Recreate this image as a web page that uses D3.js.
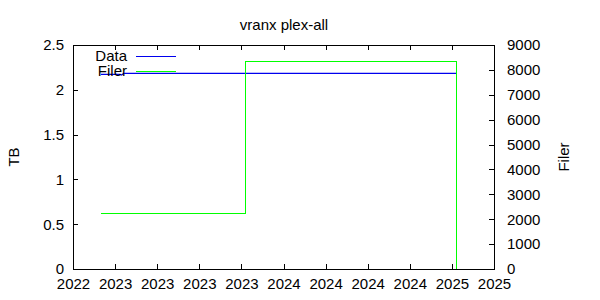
<!DOCTYPE html>
<html>
<head>
<meta charset="utf-8">
<script src="https://cdn.jsdelivr.net/npm/d3@7/dist/d3.min.js"></script>
<style>
  body { margin: 0; background: #fff; }
  svg { display: block; font-family: "Liberation Sans", Arial, sans-serif; }
</style>
</head>
<body>
<div id="chart"></div>
<script>
////// DATA

// Zeitachse: Tick-Positionen (Label nur das Jahr)
var xTicks = ["2022-11-15", "2023-02-15", "2023-05-18", "2023-08-18", "2023-11-18",
              "2024-02-18", "2024-05-20", "2024-08-20", "2024-11-20", "2025-02-20", "2025-05-23"];
var tbTicks = [0, 0.5, 1, 1.5, 2, 2.5];
var filerTicks = [0, 1000, 2000, 3000, 4000, 5000, 6000, 7000, 8000, 9000];

// Data (TB, linke Achse)
var dataDates = ["2023-01-15", "2023-02-25", "2023-03-01", "2023-03-06", "2025-03-01"];
var dataTB = [2.173, 2.173, 2.165, 2.184, 2.184];

// Filer (rechte Achse), Stufen
var filerDates = ["2023-01-15", "2023-11-27", "2025-03-01"];
var filerValues = [2240, 8320, 0];

////// CHART

var width = 600, height = 300;
var plotLeft = 73, plotRight = 494, plotTop = 45, plotBottom = 269;
var parse = d3.utcParse("%Y-%m-%d");

var svg = d3.select("#chart")
  .append("svg")
  .attr("width", width)
  .attr("height", height);

var x = d3.scaleUtc()
  .domain([parse(xTicks[0]), parse(xTicks[xTicks.length - 1])])
  .range([plotLeft, plotRight]);
var y = d3.scaleLinear().domain([0, 2.5]).range([plotBottom, plotTop]);
var y2 = d3.scaleLinear().domain([0, 9000]).range([plotBottom, plotTop]);

// Achsen (Ticks nach innen, gnuplot-Stil)
var tickDates = xTicks.map(parse);

svg.append("g")
  .attr("transform", "translate(0," + plotBottom + ")")
  .call(d3.axisBottom(x).tickValues(tickDates).tickFormat(d3.utcFormat("%Y")).tickSizeInner(-5).tickSizeOuter(0).tickPadding(9))
  .call(function(g) { g.select(".domain").remove(); });

svg.append("g")
  .attr("transform", "translate(0," + plotTop + ")")
  .call(d3.axisTop(x).tickValues(tickDates).tickFormat("").tickSizeInner(-5).tickSizeOuter(0))
  .call(function(g) { g.select(".domain").remove(); });

svg.append("g")
  .attr("transform", "translate(" + plotLeft + ",0)")
  .call(d3.axisLeft(y).tickValues(tbTicks).tickFormat(d3.format("")).tickSizeInner(-5).tickSizeOuter(0).tickPadding(9))
  .call(function(g) { g.select(".domain").remove(); });

svg.append("g")
  .attr("transform", "translate(" + plotRight + ",0)")
  .call(d3.axisRight(y2).tickValues(filerTicks).tickFormat(d3.format("d")).tickSizeInner(-5).tickSizeOuter(0).tickPadding(13))
  .call(function(g) { g.select(".domain").remove(); });

svg.selectAll(".tick text").style("font-size", "15px").attr("fill", "#000");
svg.selectAll(".tick line").attr("stroke", "#000").attr("shape-rendering", "crispEdges");

// Rahmen
svg.append("rect")
  .attr("x", plotLeft).attr("y", plotTop)
  .attr("width", plotRight - plotLeft).attr("height", plotBottom - plotTop)
  .style("fill", "none").style("stroke", "#000")
  .attr("shape-rendering", "crispEdges");

// Linien
var dataLine = d3.line()
  .x(function(d, i) { return x(parse(dataDates[i])); })
  .y(function(d) { return y(d); });

svg.append("path")
  .attr("d", dataLine(dataTB))
  .style("fill", "none").style("stroke", "#0000ee").style("stroke-width", 1.2);

var filerLine = d3.line()
  .curve(d3.curveStepAfter)
  .x(function(d, i) { return x(parse(filerDates[i])); })
  .y(function(d) { return y2(d); });

svg.append("path")
  .attr("d", filerLine(filerValues))
  .attr("shape-rendering", "crispEdges")
  .style("fill", "none").style("stroke", "#00ff00").style("stroke-width", 1);

// Legende
var legend = [["Data", "#0000ee"], ["Filer", "#00ff00"]];
legend.forEach(function(l, i) {
  var ly = 56 + i * 15;
  svg.append("text")
    .attr("x", 127).attr("y", ly + 5)
    .attr("text-anchor", "end")
    .style("font-size", "15px")
    .text(l[0]);
  svg.append("line")
    .attr("x1", 136).attr("x2", 176)
    .attr("y1", ly + 0.5).attr("y2", ly + 0.5)
    .attr("shape-rendering", "crispEdges")
    .style("stroke", l[1]).style("stroke-width", 1);
});

// Titel und Achsenbeschriftungen
svg.append("text")
  .attr("x", 284).attr("y", 30)
  .attr("text-anchor", "middle")
  .style("font-size", "15px")
  .text("vranx plex-all");

svg.append("text")
  .attr("transform", "translate(19,157) rotate(-90)")
  .attr("text-anchor", "middle")
  .style("font-size", "15px")
  .text("TB");

svg.append("text")
  .attr("transform", "translate(569,157) rotate(-90)")
  .attr("text-anchor", "middle")
  .style("font-size", "15px")
  .text("Filer");
</script>
</body>
</html>
